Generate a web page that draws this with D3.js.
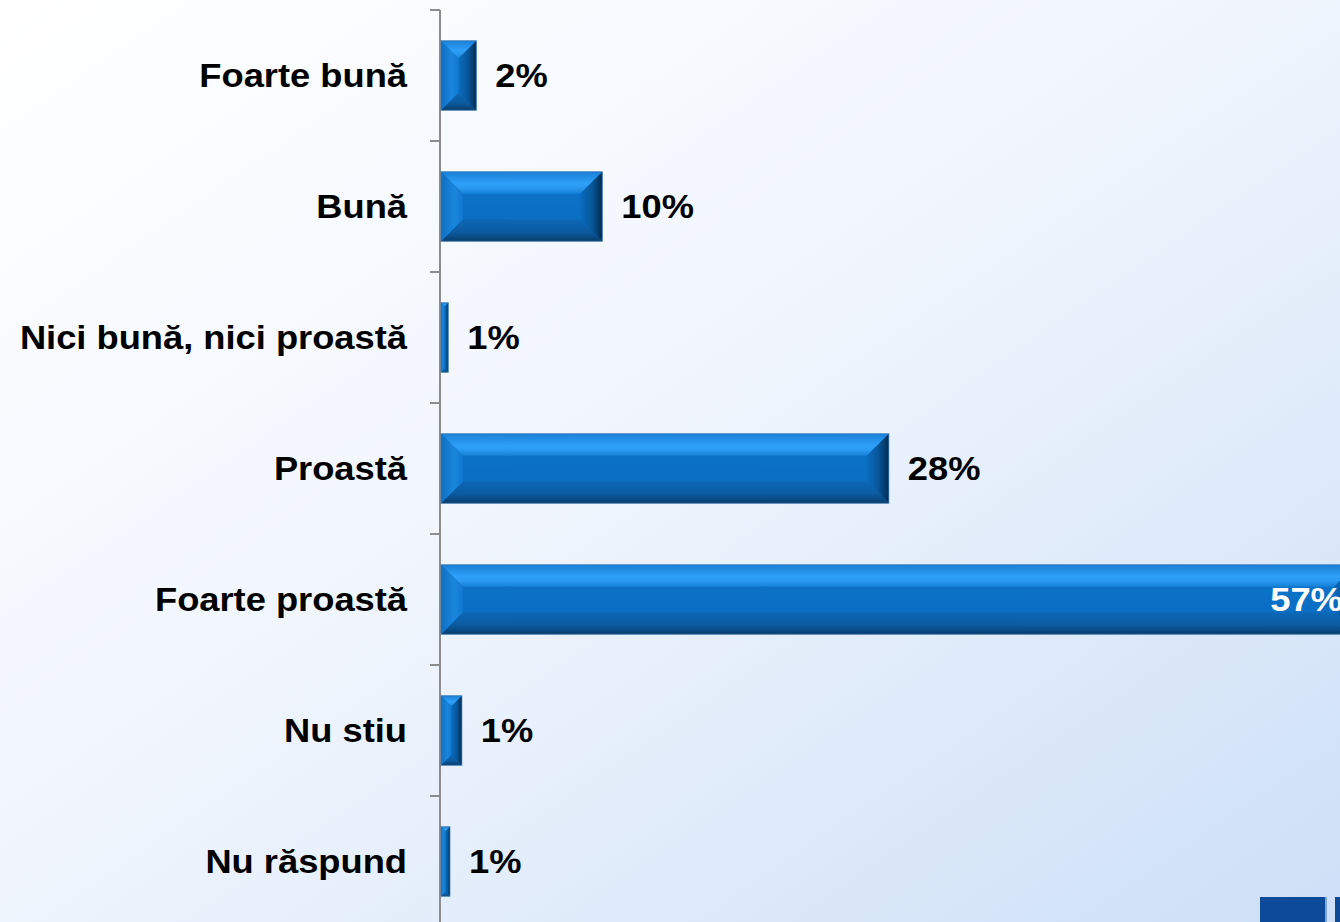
<!DOCTYPE html>
<html>
<head>
<meta charset="utf-8">
<script src="https://cdn.jsdelivr.net/npm/d3@7"></script>
<style>
html,body{margin:0;padding:0;overflow:hidden;background:#fff;}
svg{display:block;}
text{font-family:"Liberation Sans",Arial,sans-serif;font-weight:bold;}
</style>
</head>
<body>
<svg id="chart" width="1340" height="922"></svg>
<script>
const categories = ["Foarte bună","Bună","Nici bună, nici proastă","Proastă","Foarte proastă","Nu stiu","Nu răspund"];
const values = [2.2, 10.05, 0.45, 27.9, 57.0, 1.3, 0.56];
const valueLabels = ["2%","10%","1%","28%","57%","1%","1%"];

const W = 1340, H = 922;
const svg = d3.select("#chart");
const defs = svg.append("defs");

// background gradient
const bg = defs.append("linearGradient").attr("id","bg")
  .attr("x1","0").attr("y1","0").attr("x2","1").attr("y2","1");
bg.append("stop").attr("offset","0").attr("stop-color","#ffffff");
bg.append("stop").attr("offset","0.45").attr("stop-color","#f1f6fd");
bg.append("stop").attr("offset","1").attr("stop-color","#cddff7");
svg.append("rect").attr("width",W).attr("height",H).attr("fill","url(#bg)");

function vgrad(id, stops){
  const g = defs.append("linearGradient").attr("id",id).attr("x1","0").attr("y1","0").attr("x2","0").attr("y2","1");
  stops.forEach(s=>g.append("stop").attr("offset",s[0]).attr("stop-color",s[1]));
}
function hgrad(id, stops){
  const g = defs.append("linearGradient").attr("id",id).attr("x1","0").attr("y1","0").attr("x2","1").attr("y2","0");
  stops.forEach(s=>g.append("stop").attr("offset",s[0]).attr("stop-color",s[1]));
}
vgrad("topFace",[[0,"#1a80d8"],[0.55,"#2ea0f8"],[0.75,"#2a98f0"],[1,"#1480d6"]]);
vgrad("centerFace",[[0,"#0c74cb"],[1,"#0a6cc0"]]);
vgrad("bottomFace",[[0,"#0c68b8"],[0.6,"#0b5a9f"],[1,"#083d6b"]]);
hgrad("leftFace",[[0,"#0e6fc4"],[0.6,"#1a86dc"],[1,"#1078cf"]]);
hgrad("rightFace",[[0,"#0a6cbf"],[0.5,"#07589c"],[1,"#042c52"]]);

const x = d3.scaleLinear().domain([0, 60]).range([441, 441 + 60*16.05]);
const y = d3.scaleBand().domain(categories).range([10, 927]).paddingInner(0.47).paddingOuter(0.235);
const step = y.step();

// axis line and ticks
const axisX = 440;
svg.append("line").attr("x1",axisX).attr("x2",axisX).attr("y1",10).attr("y2",H)
  .attr("stroke","#8c8c8c").attr("stroke-width",2);
const tickYs = d3.range(categories.length + 1).map(i => 10 + i*step);
svg.selectAll("line.tick").data(tickYs).enter().append("line").attr("class","tick")
  .attr("x1",axisX-10).attr("x2",axisX).attr("y1",d=>d).attr("y2",d=>d)
  .attr("stroke","#8c8c8c").attr("stroke-width",2);

// bars with bevel
const bars = svg.selectAll("g.bar").data(categories.map((c,i)=>({c, v:values[i], l:valueLabels[i]})))
  .enter().append("g").attr("class","bar");

bars.each(function(d){
  const g = d3.select(this);
  const x0 = x(0), x1 = x(d.v), y0 = y(d.c), y1 = y0 + y.bandwidth();
  const w = x1 - x0, h = y1 - y0;
  const b = Math.min(22, w/2, h/2);
  const pts = a => a.map(p=>p.join(",")).join(" ");
  const ix0 = x0 + b, ix1 = x1 - b, iy0 = y0 + b, iy1 = y1 - b;
  g.append("rect").attr("x",x0).attr("y",y0).attr("width",w).attr("height",h).attr("fill","url(#centerFace)");
  g.append("polygon").attr("points",pts([[x0,y0],[x1,y0],[ix1,iy0],[ix0,iy0]])).attr("fill","url(#topFace)");
  g.append("polygon").attr("points",pts([[x0,y1],[x1,y1],[ix1,iy1],[ix0,iy1]])).attr("fill","url(#bottomFace)");
  g.append("polygon").attr("points",pts([[x0,y0],[ix0,iy0],[ix0,iy1],[x0,y1]])).attr("fill","url(#leftFace)");
  g.append("polygon").attr("points",pts([[x1,y0],[ix1,iy0],[ix1,iy1],[x1,y1]])).attr("fill","url(#rightFace)");
  g.append("rect").attr("x",x0).attr("y",y0).attr("width",w).attr("height",h)
    .attr("fill","none").attr("stroke","#3f78ad").attr("stroke-width",1).attr("stroke-opacity",0.7);

  const cy = y0 + h/2;
  const inside = x1 > 1250;
  const tx = inside ? x1 - 13 : x1 + 19;
  g.append("text")
    .attr("transform",`translate(${tx},${cy}) scale(1.1,1)`)
    .attr("dy","0.35em")
    .attr("text-anchor", inside ? "end" : "start")
    .attr("font-size",33)
    .attr("fill", inside ? "#ffffff" : "#000000")
    .text(d.l);
});

// category labels
svg.selectAll("text.cat").data(categories).enter().append("text").attr("class","cat")
  .attr("transform",d=>`translate(407,${y(d)+y.bandwidth()/2}) scale(1.1,1)`)
  .attr("dy","0.35em").attr("text-anchor","end").attr("font-size",33).attr("fill","#000")
  .text(d=>d);

// corner logo blocks
svg.append("rect").attr("x",1260).attr("y",897).attr("width",65).attr("height",25).attr("fill","#0d4a9a");
svg.append("rect").attr("x",1325).attr("y",897).attr("width",2).attr("height",25).attr("fill","#7fa6d8");
svg.append("rect").attr("x",1335).attr("y",897).attr("width",5).attr("height",25).attr("fill","#0d4a9a");
</script>
</body>
</html>
